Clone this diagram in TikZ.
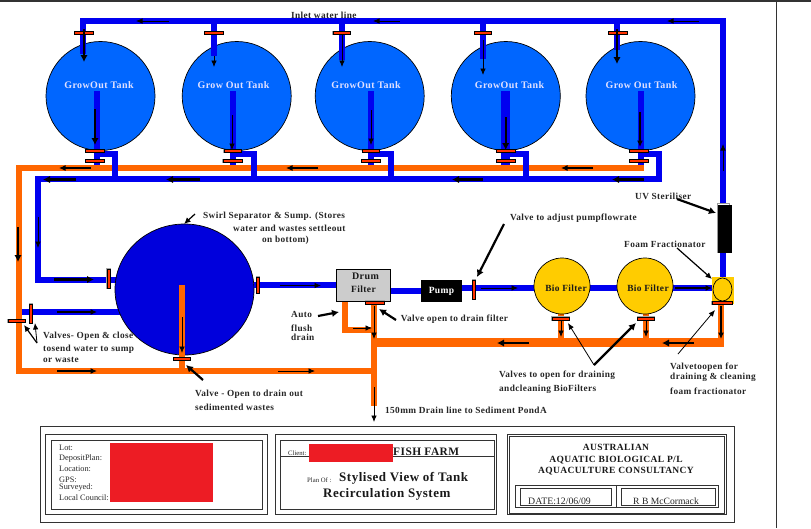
\documentclass[tikz,border=0pt]{standalone}
\usepackage{fontspec}
\setmainfont{Liberation Serif}[LetterSpace=4]
\newfontfamily\plainfont{Liberation Serif}
\usetikzlibrary{arrows.meta}
\usetikzlibrary{calc}
\usetikzlibrary{shapes.geometric}

\definecolor{tankblue}{HTML}{0066FF}
\definecolor{pipeblue}{HTML}{0000F0}
\definecolor{sumpblue}{HTML}{0000DC}
\definecolor{pipeorange}{HTML}{FF6600}
\definecolor{valvered}{HTML}{FF3300}
\definecolor{biogold}{HTML}{FFCC00}
\definecolor{blockred}{HTML}{ED1C24}

\tikzset{
    bluepipe/.style={draw=pipeblue,line width=6pt},
    orangepipe/.style={draw=pipeorange,line width=6pt},
    tank/.style={circle,draw=black,line width=0.7pt,fill=tankblue,minimum size=#1,inner sep=0pt},
    biofilter/.style={circle,draw=black,line width=0.7pt,fill=biogold,minimum size=56pt,inner sep=0pt},
    valveh/.style={rectangle,draw=black,line width=0.6pt,fill=valvered,minimum height=3pt,minimum width=#1,inner sep=0pt,
        preaction={draw=gray!70,line width=1.5pt}},
    valvev/.style={rectangle,draw=black,line width=0.6pt,fill=valvered,minimum width=3pt,minimum height=#1,inner sep=0pt,
        preaction={draw=gray!70,line width=1.5pt}},
    thinflow/.style={-{Latex[length=6.5pt,width=5.5pt]},line width=0.8pt},
    midflow/.style={-{Latex[length=6.5pt,width=6pt]},line width=1.2pt},
    bigflow/.style={-{Latex[length=7pt,width=7.5pt]},line width=2.2pt},
    tanklabel/.style={font=\bfseries\fontsize{10}{11}\selectfont,text=white!88!blue,inner sep=0pt},
    note/.style={font=\bfseries\fontsize{9.3}{10}\selectfont,anchor=west,inner sep=0pt,text=black!85},
    block/.style={draw=black!80,line width=0.7pt},
    blocktext/.style={font=\plainfont\fontsize{8.3}{9}\selectfont,anchor=west,inner sep=0pt,text=black!85},
    headtext/.style={font=\bfseries\fontsize{9.5}{10}\selectfont,inner sep=0pt,text=black!90},
}

\begin{document}
\begin{tikzpicture}[x=1pt,y=-1pt]

    \useasboundingbox (0,0) rectangle (811,528);
    \fill[black!80] (0,0) rectangle (811,2);
    \draw[black!80,line width=0.8pt] (776.7,2) -- (776.7,528);

    % grow out tanks
    \foreach \name/\cx in {1/100.5,2/236.7,3/369.7,4/505.8,5/640.5}
        \node[tank=109pt] (tank\name) at (\cx,96) {};

    % inlet line
    \coordinate (uvtop) at (723,203);
    \draw[bluepipe] (83,54) -- (83,21) -- (723,21) -- (uvtop);
    \draw[bluepipe] (214,21) -- (214,56);
    \draw[bluepipe] (341.7,21) -- (341.7,60);
    \draw[bluepipe] (483,21) -- (483,59);
    \draw[bluepipe] (617,21) -- (617,50);

    % tank outlets and return line
    \draw[bluepipe] (97,91) -- (97,166);
    \draw[bluepipe] (233,91) -- (233,166);
    \draw[bluepipe] (371,91) -- (371,166);
    \draw[bluepipe,line width=8.5pt] (505.5,91) -- (505.5,166);
    \draw[bluepipe] (641,91) -- (641,166);

    \draw[orangepipe] (644,168) -- (19,168) -- (19,371) -- (374,371);

    \draw[bluepipe] (97,154) -- (115,154) -- (115,179);
    \draw[bluepipe] (233,154) -- (254,154) -- (254,179);
    \draw[bluepipe] (371,154) -- (391,154) -- (391,179);
    \draw[bluepipe] (505,154) -- (526,154) -- (526,179);
    \draw[bluepipe] (641,154) -- (659,154) -- (659,179) -- (38,179) -- (38,280) -- (120,280);
    \draw[bluepipe] (22,312) -- (125,312);

    \foreach \name/\cx/\wa/\wb/\wc in {1/84/19/95/19,2/214/19/232.5/17,3/341.5/17/371/17,4/483/17/506/19,5/618/19/639/19} {
        \node[valveh=\wa pt] (inv\name) at (\cx,33) {};
        \node[valveh=\wc pt] (topv\name) at (\wb,151) {};
        \node[valveh=19pt] (lowv\name) at (\wb,161) {};
    }

    \foreach \name/\tx/\txt in {1/99/GrowOut Tank,2/233.5/Grow Out Tank,3/366/GrowOut Tank,4/509.5/GrowOut Tank,5/641.5/Grow Out Tank}
        \node[tanklabel] (label\name) at (\tx,85) {\txt};

    % swirl separator
    \node[ellipse,draw=black,line width=0.7pt,fill=sumpblue,minimum width=139pt,minimum height=131pt,inner sep=0pt] (sump) at (184.5,289.5) {};
    \draw[orangepipe] (182,285) -- (182,371);
    \node[valveh=17pt] (sumpdrain) at (182,359) {};
    \node[valvev=19pt] (sumpin) at (108.3,278.5) {};
    \node[valvev=19pt] (lowin) at (31,313.5) {};
    \node[valveh=17pt] (waste) at (16.3,321) {};

    % drum filter, pump, bio filters
    \draw[bluepipe] (254,285) -- (337,285);
    \draw[bluepipe] (390,291) -- (421,291);
    \draw[bluepipe] (462,288) -- (534,288);
    \draw[bluepipe] (590,288) -- (617,288);
    \draw[bluepipe] (672,288) -- (712,288);
    \draw[bluepipe] (723,253) -- (723,277);
    \node[valvev=16pt] (sumpout) at (258,285) {};
    \node[valvev=19pt] (pumpv) at (474,289.5) {};

    \draw[orangepipe] (345,301) -- (345,330) -- (374,330);
    \draw[orangepipe] (374,301) -- (374,406);
    \draw[orangepipe,line width=9pt] (371,342.5) -- (723.5,342.5);
    \draw[orangepipe] (721,304) -- (721,340);
    \draw[orangepipe] (560.7,312) -- (560.7,340);
    \draw[orangepipe] (646,312) -- (646,340);

    \node[rectangle,draw=black,line width=1pt,fill=black!20,minimum width=54pt,minimum height=32pt,inner sep=0pt] (drum) at (363,285.5) {};
    \node[headtext,font=\bfseries\fontsize{10}{11}\selectfont] (drumtxt1) at (365.5,276.7) {Drum};
    \node[headtext,font=\bfseries\fontsize{9.5}{11}\selectfont] (drumtxt2) at (363.5,289) {Filter};
    \node[valveh=19pt] (drumv) at (375.2,302.7) {};

    \node[rectangle,fill=black,minimum width=41pt,minimum height=22pt,inner sep=0pt,text=white,font=\bfseries\fontsize{9.5}{11}\selectfont] (pump) at (441.5,291) {Pump};

    \node[biofilter] (bio1) at (562,286) {};
    \node[biofilter] (bio2) at (645,286) {};
    \node[headtext,font=\bfseries\fontsize{9.4}{11}\selectfont] (biotxt1) at (566,288) {Bio Filter};
    \node[headtext,font=\bfseries\fontsize{9.4}{11}\selectfont] (biotxt2) at (648,288) {Bio Filter};
    \node[valveh=17pt] (biov1) at (560.7,318.7) {};
    \node[valveh=17pt] (biov2) at (646,318.7) {};

    % uv and foam fractionator
    \draw[draw=gray!80,fill=white,line width=0.7pt] (717.5,203) rectangle (729,206);
    \node[rectangle,fill=black,minimum width=14.5pt,minimum height=48pt,inner sep=0pt] (uv) at (724.7,229) {};
    \draw[gray!80,line width=0.7pt] (717.5,205) -- (717.5,253);
    \node[rectangle,fill=biogold,minimum width=22pt,minimum height=27pt,inner sep=0pt] (foamsq) at (723,290.5) {};
    \node[ellipse,draw=black,line width=0.7pt,fill=biogold,minimum width=19pt,minimum height=23pt,inner sep=0pt] (foam) at (722.5,289.5) {};
    \node[valveh=20pt] (foamv) at (722,303) {};

    % flow arrows
    \foreach \xa/\ya/\xb/\yb in {169/21/136/21,400/21/373/21,699/21/667/21,723/171/723/144,214/56/214/67,342/34/342/67,483/40/483/75,232/115/232/150,371/110/371/145,38/217/38/248,182/317/182/353,280/285.5/321/285.5,481/288/518/288,353/328/372/328,374/306/374/339,278/371/315/371,374/387/374/422,561/320/561/337,646/320/646/337}
        \draw[thinflow] (\xa,\ya) -- (\xb,\yb);
    \foreach \xa/\ya/\xb/\yb in {91/168/59/168,318/168/286/168,593/168/561/168,640/112/640/147,57/312/97/312,57/371/97/371,675/288/712/288,721/306/721/339}
        \draw[midflow] (\xa,\ya) -- (\xb,\yb);
    \foreach \xa/\ya/\xb/\yb in {84/29/84/62,617/29/617/64,95/109/95/145,505.7/117/505.7/150,76/179.5/43/179.5,200/179.5/166/179.5,483/179.5/452/179.5,644/179.5/612/179.5,18/227/18/262,54/279.5/94/279.5,529/343/497/343,694/343/662/343}
        \draw[bigflow] (\xa,\ya) -- (\xb,\yb);

    % callouts
    \coordinate (swirltail) at (195,214);
    \coordinate (valvetail) at (37,343);
    \coordinate (draintail) at (203,380);
    \coordinate (autotail) at (318,316);
    \coordinate (drumvtail) at (396,320);
    \coordinate (pumpvtail) at (504,224);
    \coordinate (uvtail) at (677,199);
    \coordinate (foamtail) at (677,248);
    \coordinate (biotail) at (594,365);
    \coordinate (foamvtail) at (678,354);

    \draw[midflow] (swirltail) -- (184,224);
    \draw[midflow] (valvetail) -- (24,325);
    \draw[thinflow] (valvetail) -- (35,323);
    \draw[bigflow] (draintail) -- (186,365);
    \draw[bigflow] (autotail) -- (339,312);
    \draw[bigflow] (drumvtail) -- (379,309);
    \draw[bigflow] (pumpvtail) -- (477,277);
    \draw[bigflow] (uvtail) -- (716,213);
    \draw[midflow] (foamtail) -- (712,279);
    \draw[thinflow] (biotail) -- (568,323);
    \draw[bigflow] (biotail) -- (636,323);
    \draw[thinflow] (foamvtail) -- (715,310);

    % notes
    \foreach \name/\tx/\ty/\txt in {inlet/291/15.5/Inlet water line,
        swirla/203/216/Swirl Separator \& Sump. (Stores,
        swirlb/233/228.5/water and wastes settleout,
        swirlc/262/240/on bottom),
        pumpnote/510/218/Valve to adjust pumpflowrate,
        uvnote/635/196.7/UV Steriliser,
        foamnote/624/244/Foam Fractionator,
        autoa/291/314/Auto,
        autob/291/328/flush,
        autoc/291/337.5/drain,
        drumnote/400.7/319/Valve open to drain filter,
        valvesa/43/336/Valves- Open \& close,
        valvesb/43/349/tosend water to sump,
        valvesc/43/360/or waste,
        draina/195/394/Valve - Open to drain out,
        drainb/195/407.7/sedimented wastes,
        pond/385/410/150mm Drain line to Sediment PondA,
        bionotea/499/375.7/Valves to open for draining,
        bionoteb/499/389/andcleaning BioFilters,
        foamva/670/367.7/Valvetoopen for,
        foamvb/670/377.7/draining \& cleaning,
        foamvc/670/391.7/foam fractionator}
        \node[note] (\name) at (\tx,\ty) {\txt};

    % title block
    \draw[block] (40.3,426.7) rectangle (734,522.3);
    \draw[block] (45.7,434.7) rectangle (267.3,514.7);
    \draw[block,line width=1pt] (51,440) rectangle (262,509.3);
    \draw[block] (275,434.7) rectangle (496.7,514.7);
    \draw[block,line width=1pt] (280,440) rectangle (494,509.3);
    \draw[block] (280,456.3) -- (494,456.3);
    \draw[block] (507.3,434.7) rectangle (726,514.7);
    \draw[block] (509,436.7) rectangle (724,513);
    \draw[block,line width=0.9pt] (515,485) rectangle (718,507);
    \draw[block] (616.7,485) -- (616.7,507);
    \draw[block] (520,488) rectangle (611.7,505.7);
    \draw[block] (621,488) rectangle (715.7,505.7);

    \foreach \name/\ty/\txt in {lot/448/Lot:,plan/458/DepositPlan:,location/468.5/Location:,gps/479.7/GPS:,surveyed/487.5/Surveyed:,council/498/Local Council:}
        \node[blocktext] (\name) at (59,\ty) {\txt};
    \fill[blockred] (110,442.7) rectangle (213,501.7);

    \node[blocktext,font=\plainfont\fontsize{6.7}{7}\selectfont] (client) at (288,453) {Client:};
    \fill[blockred] (309,444) rectangle (393,462);
    \node[headtext,anchor=west,font=\bfseries\fontsize{11.4}{12}\selectfont] (farm) at (393,452) {FISH FARM};
    \node[blocktext,font=\plainfont\fontsize{6.7}{7}\selectfont] (planof) at (307,480) {Plan Of :};
    \node[headtext,anchor=west,font=\bfseries\fontsize{13}{14}\selectfont] (titlea) at (339,478) {Stylised View of Tank};
    \node[headtext,anchor=west,font=\bfseries\fontsize{13}{14}\selectfont] (titleb) at (323,494) {Recirculation System};

    \node[headtext] (aus) at (616,447) {AUSTRALIAN};
    \node[headtext] (bio) at (616,460) {AQUATIC BIOLOGICAL P/L};
    \node[headtext] (cons) at (616,471) {AQUACULTURE CONSULTANCY};
    \node[blocktext,font=\plainfont\fontsize{9.8}{11}\selectfont] (date) at (528,501) {DATE:12/06/09};
    \node[blocktext,font=\plainfont\fontsize{9.6}{11}\selectfont] (rb) at (633,501) {R B McCormack};

\end{tikzpicture}
\end{document}
